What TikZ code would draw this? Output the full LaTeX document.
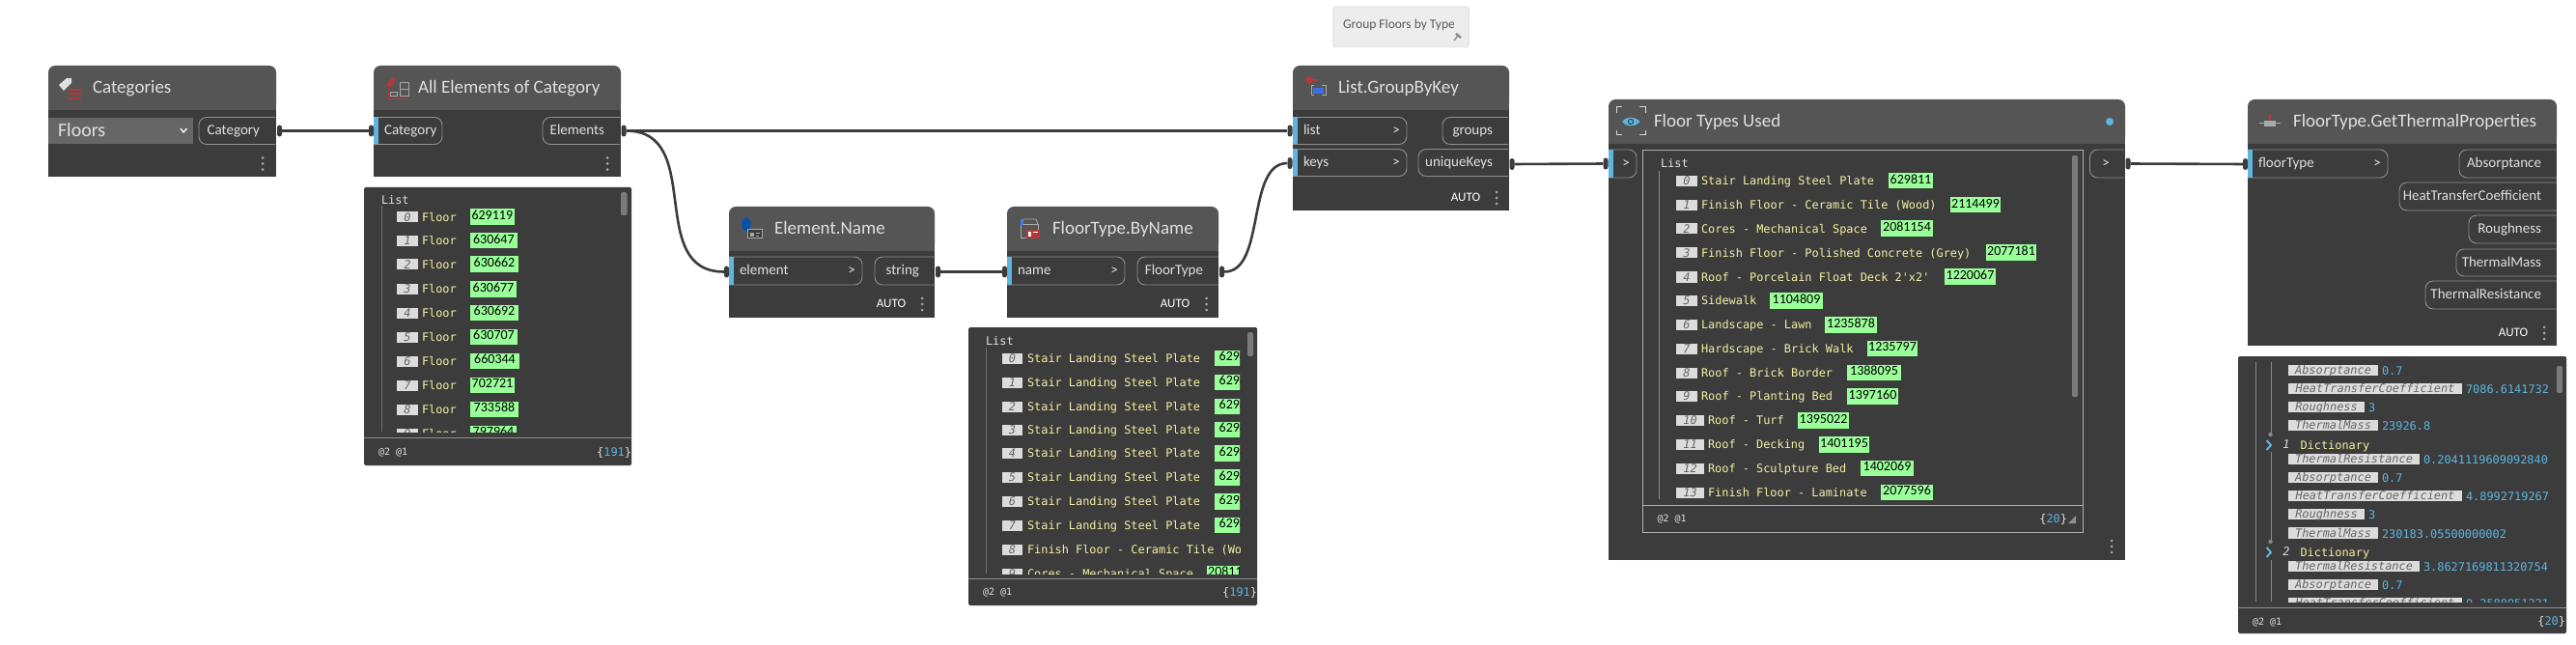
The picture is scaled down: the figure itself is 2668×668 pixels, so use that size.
\documentclass[tikz,border=0pt]{standalone}
\usepackage{fontspec}
\setmainfont{Carlito}
\newfontfamily\ui{Carlito}
\newfontfamily\mono{DejaVu Sans Mono}
\definecolor{body}{HTML}{3C3C3C}
\definecolor{head}{HTML}{555555}
\definecolor{drop}{HTML}{666666}
\definecolor{wire}{HTML}{3C3C3C}
\definecolor{pillline}{HTML}{8E8E8E}
\definecolor{boxline}{HTML}{B0B0B0}
\definecolor{pilltext}{HTML}{E0E0E0}
\definecolor{portblue}{HTML}{5DB5E0}
\definecolor{gridgreen}{HTML}{99FF99}
\definecolor{stryel}{HTML}{F3F0A2}
\definecolor{idxbox}{HTML}{DCDCDC}
\definecolor{idxtext}{HTML}{666666}
\definecolor{valblue}{HTML}{5DB5E0}
\definecolor{treeline}{HTML}{707070}
\definecolor{treelight}{HTML}{8A8A8A}
\definecolor{scrollc}{HTML}{7A7A7A}
\definecolor{iconred}{HTML}{B23A3A}
\definecolor{icongrey}{HTML}{A8A8A8}
\newcount\nn
\newcommand{\nextname}{\global\advance\nn by 1 }
\tikzset{
  txt/.style={inner sep=0pt,outer sep=0pt},
  nub/.style={fill=wire,draw=none,inner sep=0pt,minimum width=5pt,minimum height=12pt,rounded corners=2.5pt},
  wirep/.style={draw=wire,line width=2.6pt},
  pillp/.style={draw=pillline,line width=.9pt},
  titlef/.style={txt,text height=14.2pt,text depth=2.6pt,text=pilltext,font=\ui\fontsize{19}{22}\selectfont},
  portf/.style={txt,text height=11pt,text depth=2.4pt,text=pilltext,font=\ui\fontsize{15}{18}\selectfont},
  autof/.style={txt,text height=9.5pt,text depth=2pt,text=white,font=\ui\fontsize{13}{16}\selectfont},
  monof/.style={txt,text height=10pt,text depth=1.7pt,font=\mono\fontsize{11.9}{14}\selectfont},
  smallf/.style={txt,text height=8pt,text depth=1.8pt,text=pilltext,font=\mono\fontsize{10}{12}\selectfont},
  numf/.style={txt,text height=10.1pt,text depth=2.2pt,text=black,font=\ui\fontsize{14}{16}\selectfont},
}
% text helper: options, x, y, text
\newcommand{\tx}[4]{\nextname\node[#1,name=n\the\nn] at ({#2},{#3}) {#4};}
% node body: x1 y1 x2 y2 headerbottom title titlex
\newcommand{\nodebody}[7]{%
  \fill[body] (#1,#5) rectangle (#3,#4);
  \fill[head,rounded corners=7pt] (#1,#5) -- (#1,#2) -- (#3,#2) -- (#3,#5) -- cycle;
  \fill[head] (#1,#5-10) rectangle (#3,#5);
  \tx{titlef,anchor=west}{#7}{#2/2+#5/2}{#6}
}
% input pill: x1 y1 x2 y2 text chevron-text
\newcommand{\inpill}[6]{%
  \draw[pillp,rounded corners=8pt] (#1,#2) -- (#3,#2) -- (#3,#4) -- (#1,#4);
  \fill[portblue] (#1,#2) rectangle (#1+4.5,#4);
  \tx{portf,anchor=west}{#1+11}{#2/2+#4/2-.5}{#5}
  \tx{portf,anchor=center}{#3-11}{#2/2+#4/2}{#6}
}
% output pill: x1 y1 x2 y2 text
\newcommand{\outpill}[5]{%
  \draw[pillp,rounded corners=8pt] (#3,#2) -- (#1,#2) -- (#1,#4) -- (#3,#4);
  \tx{portf,anchor=east}{#3-16}{#2/2+#4/2}{#5}
}
\newcommand{\menudots}[2]{\foreach \d in {-6,0,6}{\fill[icongrey] (#1,#2+\d) circle (1.5pt);}}
% watch row: y idx boxx1 boxx2 textx text gx1 gx2 num
\newcommand{\wrow}[9]{%
  \fill[idxbox] (#3,#1-5.5) rectangle (#4,#1+5.5);
  \tx{monof,text=idxtext,anchor=center}{#3/2+#4/2}{#1}{\itshape #2}
  \tx{monof,text=stryel,anchor=west}{#5}{#1}{#6}
  \fill[gridgreen] (#7,#1-8.5) rectangle (#8,#1+8);
  \tx{numf,anchor=center}{#7/2+#8/2}{#1-1}{#9}
}
% key row for dictionary: y key x2 value
\newcommand{\krow}[4]{%
  \fill[idxbox] (2370,#1-5.7) rectangle (#3,#1+5.7);
  \tx{monof,text=idxtext,anchor=center}{2370/2+#3/2}{#1}{\itshape #2}
  \tx{monof,text=valblue,anchor=west}{#3+4}{#1+1}{#4}
}
\begin{document}
\begin{tikzpicture}[x=1pt,y=-1pt]
\useasboundingbox (0,0) rectangle (2668,668);
\fill[white] (0,0) rectangle (2668,668);

% ---------- note
\fill[black!9,rounded corners=3pt] (1380,6.5) rectangle (1522,49.5);
\fill[black!7,rounded corners=2pt] (1382,8) rectangle (1520,48);
\tx{txt,text height=10pt,text depth=3pt,text=black!65,anchor=center,font=\ui\fontsize{13.5}{16}\selectfont}{1449}{26}{Group Floors by Type}
\draw[black!45,line width=1.4pt] (1506,42) -- (1510,37);
\draw[black!45,line width=2.6pt] (1508,35) -- (1513,39);

% ---------- Categories
\nodebody{50}{68}{286}{183}{114}{Categories}{96}
\fill[white!88!black] (61,88) -- (69,81) -- (74,81) -- (74,86) -- (66,94) -- cycle;
\foreach \yy in {93,97.5,102}{\fill[iconred] (71,\yy-1) rectangle (84,\yy+1);}
\fill[drop] (50,122) rectangle (199.5,149);
\tx{txt,text height=13.5pt,text depth=3pt,text=pilltext,anchor=west,font=\ui\fontsize{20}{22}\selectfont}{60}{136}{Floors}
\draw[white,line width=1.3pt] (187,133) -- (190,137) -- (193.5,133);
\outpill{206}{121.5}{285}{149.5}{Category}
\menudots{272}{169.5}
\node[nub] (outcat) at (289.5,135.5) {};

% ---------- All Elements of Category
\nodebody{387}{68}{643}{183}{114}{All Elements of Category}{433}
\fill[iconred] (400,88) -- (406,80) -- (410,82) -- (405,91) -- cycle;
\draw[icongrey,line width=1pt] (414,86) rectangle (423,100);
\draw[icongrey,line width=1pt] (414,93) -- (423,93);
\draw[iconred,line width=.8pt] (402,91) -- (402,102) -- (423,102);
\draw[icongrey,line width=1pt] (404,96) rectangle (411,100);
\inpill{387}{121.5}{458}{149.5}{Category}{}
\outpill{562}{121.5}{642}{149.5}{Elements}
\menudots{629}{169.5}
\node[nub] (incat) at (384.5,135.5) {};
\node[nub] (outel) at (646,135.5) {};

% ---------- watch 1
\fill[body,rounded corners=1.5pt] (377,194) rectangle (654,482);
\begin{scope}
\clip (377,194) rectangle (654,447);
\draw[treeline,line width=.8pt] (395,213) -- (395,447);
\foreach \yy/\ii/\gx/\nm in {225/0/532.6/629119,249.5/1/535.7/630647,274/2/537/630662,299.5/3/535/630677,324/4/537/630692,349/5/536/630707,374/6/538/660344,399/7/533/702721,424/8/537/733588,449/9/535/797964}{%
  \wrow{\yy}{\ii}{411}{433}{437}{Floor}{487}{\gx}{\nm}
}
\end{scope}
\tx{monof,text=pilltext,anchor=west}{395}{207}{List}
\fill[scrollc,rounded corners=2pt] (643,199) rectangle (649.5,223);
\draw[pillline,line width=.9pt] (377,453) -- (654,453);
\tx{smallf,anchor=west}{392}{468}{@2 @1}
\tx{monof,anchor=east}{654}{468}{\textcolor{pilltext}{\{}\textcolor{valblue}{191}\textcolor{pilltext}{\}}}

% ---------- Element.Name
\nodebody{755}{214}{968}{329}{260}{Element.Name}{802}
\fill[blue!55!cyan!70!black] (773,232.5) ellipse (4.5pt and 7pt);
\fill[body] (774.5,238) rectangle (789.5,247);
\draw[icongrey,line width=1pt] (774.5,238) rectangle (789.5,247);
\fill[icongrey] (777,241) rectangle (781,245);
\draw[icongrey,line width=.8pt] (783,241.5) -- (787,241.5) (783,244.5) -- (786,244.5);
\inpill{755}{266}{893}{295}{element}{>}
\outpill{906}{266}{968}{295}{string}
\tx{autof,anchor=center}{923}{315}{AUTO}
\menudots{955}{315}
\node[nub] (inelem) at (752.5,281.5) {};
\node[nub] (outstr) at (971.5,281.5) {};

% ---------- FloorType.ByName
\nodebody{1043}{214}{1262}{329}{260}{FloorType.ByName}{1090}
\draw[icongrey,line width=.9pt] (1057,232) rectangle (1075,246);
\fill[portblue!70!blue] (1057,227) rectangle (1060,233);
\draw[icongrey,line width=.9pt] (1060,227) -- (1073,227) -- (1075,232);
\fill[iconred] (1063,238) rectangle (1077,247);
\fill[white] (1065,240) rectangle (1068,245);
\fill[white] (1070,240) rectangle (1075,241.5);
\inpill{1043}{266}{1165}{295}{name}{>}
\outpill{1178}{266}{1262}{295}{FloorType}
\tx{autof,anchor=center}{1217}{315}{AUTO}
\menudots{1249.5}{315}
\node[nub] (inname) at (1040.5,281.5) {};
\node[nub] (outft) at (1265.5,281.5) {};

% ---------- watch 2
\fill[body,rounded corners=1.5pt] (1003,339) rectangle (1302,627);
\begin{scope}
\clip (1003,339) rectangle (1284,594);
\draw[treeline,line width=.8pt] (1021,360) -- (1021,594);
\foreach \yy/\ii in {371/0,396/1,421/2,445/3,469.5/4,494.5/5,519.5/6,544/7}{%
  \wrow{\yy}{\ii}{1038}{1059}{1064}{Stair Landing Steel Plate}{1258}{1310}{629811}
}
\fill[idxbox] (1038,563.5) rectangle (1059,574.5);
\tx{monof,text=idxtext,anchor=center}{1048.5}{569}{\itshape 8}
\tx{monof,text=stryel,anchor=west}{1064}{569}{Finish Floor - Ceramic Tile (Wood)}
\wrow{594}{9}{1038}{1059}{1064}{Cores - Mechanical Space}{1250}{1302}{2081154}
\end{scope}
\tx{monof,text=pilltext,anchor=west}{1021}{353}{List}
\fill[scrollc,rounded corners=2pt] (1292,344) rectangle (1298,369);
\draw[pillline,line width=.9pt] (1003,599) -- (1302,599);
\tx{smallf,anchor=west}{1018}{613.5}{@2 @1}
\tx{monof,anchor=east}{1302}{613}{\textcolor{pilltext}{\{}\textcolor{valblue}{191}\textcolor{pilltext}{\}}}

% ---------- List.GroupByKey
\nodebody{1339}{68}{1563}{218}{114}{List.GroupByKey}{1386}
\fill[iconred] (1356,83) circle (4pt);
\fill[iconred] (1356,82) rectangle (1365,84.5);
\draw[icongrey,line width=1pt] (1361,89) -- (1358,89) -- (1358,99) -- (1361,99);
\draw[icongrey,line width=1pt] (1369,89) -- (1373,89) -- (1373,99) -- (1369,99);
\fill[portblue!60!blue] (1360,91) rectangle (1371,97);
\inpill{1339}{121.5}{1457}{149.5}{list}{>}
\inpill{1339}{154.5}{1457}{182.5}{keys}{>}
\outpill{1494}{121.5}{1562}{149.5}{groups}
\outpill{1469}{154.5}{1562}{182.5}{uniqueKeys}
\tx{autof,anchor=center}{1518}{204.5}{AUTO}
\menudots{1550}{205}
\node[nub] (inlist) at (1336,135.5) {};
\node[nub] (inkeys) at (1336,169) {};
\node[nub] (outuk) at (1566,170) {};

% ---------- Floor Types Used
\nodebody{1666}{103}{2201}{580}{149}{Floor Types Used}{1713}
\fill[portblue] (1680,126) .. controls (1685,120) and (1693,120) .. (1698.5,126) .. controls (1693,132) and (1685,132) .. (1680,126) -- cycle;
\draw[body,line width=1pt] (1689,126) circle (2.6pt);
\draw[white!85!black,line width=1pt] (1674,117) -- (1674,110.5) -- (1680,110.5) (1698,110.5) -- (1704,110.5) -- (1704,117) (1674,135) -- (1674,140) -- (1680,140) (1698,140) -- (1704,140) -- (1704,135);
\fill[portblue] (2185,126) circle (4pt);
\inpill{1666}{155}{1695}{184}{}{>}
\draw[pillp,rounded corners=8pt] (2200,155) -- (2164.5,155) -- (2164.5,184) -- (2200,184);
\tx{portf,anchor=center}{2181}{169.5}{>}
\draw[boxline,line width=.9pt] (1701,155.5) rectangle (2157.5,551);
\begin{scope}
\clip (1701,155.5) rectangle (2157.5,517);
\draw[treelight,line width=.9pt] (1718.5,177) -- (1718.5,517);
\foreach \yy/\ii/\bx/\tp/\ta/\tb/\nm in {
187.5/0/1758/1762/1956/2002/629811,
212.5/1/1758/1762/2020/2072/2114499,
237/2/1758/1762/1948/2002/2081154,
262/3/1758/1762/2057/2109/2077181,
287/4/1758/1762/2014/2067/1220067,
311.5/5/1758/1762/1833/1888/1104809,
336.5/6/1758/1762/1890/1944/1235878,
361/7/1758/1762/1934/1986/1235797,
386/8/1758/1762/1913/1969/1388095,
410.5/9/1758/1762/1913/1966/1397160,
435.5/10/1765/1769/1862/1915/1395022,
460.5/11/1765/1769/1884/1936/1401195,
485/12/1765/1769/1927/1982/1402069,
510/13/1765/1769/1948/2002/2077596}{%
  \wrow{\yy}{\ii}{1736}{\bx}{\tp}{%
    \ifcase\ii Stair Landing Steel Plate\or Finish Floor - Ceramic Tile (Wood)\or Cores - Mechanical Space\or Finish Floor - Polished Concrete (Grey)\or Roof - Porcelain Float Deck 2'x2'\or Sidewalk\or Landscape - Lawn\or Hardscape - Brick Walk\or Roof - Brick Border\or Roof - Planting Bed\or Roof - Turf\or Roof - Decking\or Roof - Sculpture Bed\or Finish Floor - Laminate\fi}{\ta}{\tb}{\nm}
}
\end{scope}
\tx{monof,text=pilltext,anchor=west}{1720}{169}{List}
\fill[scrollc,rounded corners=2pt] (2146,161) rectangle (2152,411);
\draw[boxline,line width=.9pt] (1701,523) -- (2157.5,523);
\tx{smallf,anchor=west}{1716.5}{537.5}{@2 @1}
\tx{monof,anchor=east}{2141}{537}{\textcolor{pilltext}{\{}\textcolor{valblue}{20}\textcolor{pilltext}{\}}}
\fill[pillline] (2150,534) -- (2150,542) -- (2142,542) -- cycle;
\menudots{2187}{566}
\node[nub] (inwatch) at (1663,169.5) {};
\node[nub] (outwatch) at (2204,169.5) {};

% ---------- FloorType.GetThermalProperties
\nodebody{2328}{103}{2648}{358}{149}{FloorType.GetThermalProperties}{2375}
\draw[icongrey,line width=1pt] (2340,128) -- (2362,128);
\fill[icongrey] (2345,125) rectangle (2357,131);
\fill[iconred] (2350,118) rectangle (2352,125);
\inpill{2328}{155}{2473}{184}{floorType}{>}
\outpill{2547}{155}{2648}{184}{Absorptance}
\outpill{2485}{189}{2648}{218}{HeatTransferCoefficient}
\outpill{2557}{223}{2648}{252}{Roughness}
\outpill{2544}{258}{2648}{286}{ThermalMass}
\outpill{2512}{291}{2648}{320}{ThermalResistance}
\tx{autof,anchor=center}{2603}{345}{AUTO}
\menudots{2635}{345}
\node[nub] (infloor) at (2325.5,170) {};

% ---------- watch 3
\fill[body,rounded corners=1.5pt] (2318,369) rectangle (2658,656);
\begin{scope}
\clip (2318,369) rectangle (2640,623);
\draw[treelight,line width=.8pt] (2336,375) -- (2336,623);
\draw[treelight,line width=.8pt] (2352,375) -- (2352,450) (2352,468) -- (2352,561) (2352,580) -- (2352,623);
\fill[treelight] (2351.5,450) circle (2.2pt) (2351.5,561) circle (2.2pt);
\krow{383.5}{Absorptance}{2463}{0.7}
\krow{402.5}{HeatTransferCoefficient}{2550}{7086.6141732}
\krow{421.5}{Roughness}{2449}{3}
\krow{440.5}{ThermalMass}{2463}{23926.8}
\draw[portblue,line width=2pt] (2347.5,456) -- (2352,461) -- (2347.5,466);
\tx{monof,text=pilltext,anchor=center}{2368}{460}{\itshape 1}
\tx{monof,text=stryel,anchor=west}{2382.5}{461}{Dictionary}
\krow{475.5}{ThermalResistance}{2506}{0.2041119609092840}
\krow{494.5}{Absorptance}{2463}{0.7}
\krow{513.5}{HeatTransferCoefficient}{2550}{4.8992719267}
\krow{532.5}{Roughness}{2449}{3}
\krow{552}{ThermalMass}{2463}{230183.05500000002}
\draw[portblue,line width=2pt] (2347.5,567) -- (2352,572) -- (2347.5,577);
\tx{monof,text=pilltext,anchor=center}{2368}{571}{\itshape 2}
\tx{monof,text=stryel,anchor=west}{2382.5}{572}{Dictionary}
\krow{586.5}{ThermalResistance}{2506}{3.8627169811320754}
\krow{605.5}{Absorptance}{2463}{0.7}
\krow{624.5}{HeatTransferCoefficient}{2550}{0.2588951221}
\end{scope}
\fill[scrollc,rounded corners=2pt] (2648,379) rectangle (2654,407);
\draw[pillline,line width=.9pt] (2318,629) -- (2658,629);
\tx{smallf,anchor=west}{2333}{644}{@2 @1}
\tx{monof,anchor=east}{2657}{643.5}{\textcolor{pilltext}{\{}\textcolor{valblue}{20}\textcolor{pilltext}{\}}}

% ---------- wires
\draw[wirep] (outcat) -- (incat);
\draw[wirep] (outel) -- (inlist);
\draw[wirep] (outel.east) .. controls +(82,0) and +(-82,0) .. (inelem.west);
\draw[wirep] (outstr) -- (inname);
\draw[wirep] (outft.east) .. controls +(43,0) and +(-43,0) .. (inkeys.west);
\draw[wirep] (outuk) -- (inwatch);
\draw[wirep] (outwatch) -- (infloor);
\end{tikzpicture}
\end{document}
